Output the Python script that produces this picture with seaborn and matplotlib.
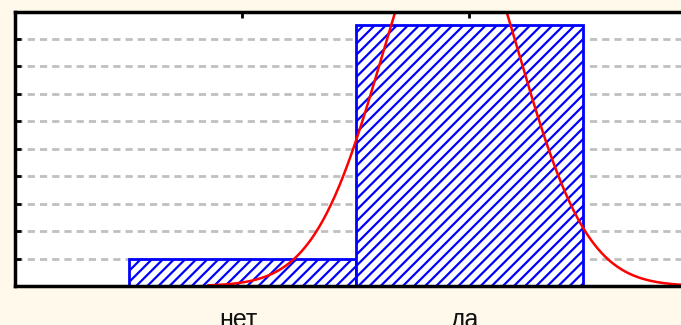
import numpy as np
import pandas as pd
import matplotlib
matplotlib.use("Agg")
import matplotlib.pyplot as plt
from matplotlib.transforms import ScaledTranslation
import seaborn as sns

# ---- data ----
categories = ["нет", "да"]
counts = [10, 95]
fit_mean = 0.92      # fitted normal curve (position units: нет=0, да=1)
fit_sd = 0.30
curve_start = -0.15
curve_end = 2.1
y_gridlines = [10, 20, 30, 40, 50, 60, 70, 80, 90]

sns.set_theme(style="white")
plt.rcParams["font.family"] = ["Liberation Sans", "DejaVu Sans"]
plt.rcParams["hatch.color"] = "#0000FF"
plt.rcParams["hatch.linewidth"] = 1.6

fig = plt.figure(figsize=(6.81, 3.25), dpi=100, facecolor="#FFF9EC")
ax = fig.add_axes([15 / 681, 39 / 325, 1.0, 274.5 / 325])
ax.set_facecolor("white")

df = pd.DataFrame({"pos": np.arange(len(categories)), "count": counts})
sns.barplot(data=df, x="pos", y="count", native_scale=True, width=1.0,
            color="white", saturation=1, edgecolor="#0000FF", linewidth=2.0,
            hatch="///", errorbar=None, ax=ax, zorder=2)

N = sum(counts)
xs = np.linspace(curve_start, curve_end, 500)
ys = N * np.exp(-0.5 * ((xs - fit_mean) / fit_sd) ** 2) / (fit_sd * np.sqrt(2 * np.pi))
sns.lineplot(x=xs, y=ys, color="#FF0000", linewidth=1.8, ax=ax, zorder=3)

ax.set_xlim(-1.0, 2.0)
ax.set_ylim(0, 100)
ax.set_xticks(range(len(categories)))
ax.set_xticklabels(categories, fontsize=18, color="#111111")
ax.set_yticks(y_gridlines)
ax.set_yticklabels([])
ax.set_xlabel("")
ax.set_ylabel("")
ax.grid(axis="y", color="#C0C0C0", linestyle=(0, (2.6, 1.8)), linewidth=2.0)
ax.grid(axis="x", visible=False)
ax.set_axisbelow(True)

for s in ["left", "top", "bottom"]:
    ax.spines[s].set_visible(True)
    ax.spines[s].set_color("black")
    ax.spines[s].set_linewidth(2.5)
    ax.spines[s].set_zorder(5)
ax.spines["right"].set_visible(False)

ax.tick_params(axis="x", direction="in", top=True, bottom=True, length=4.3,
               width=2, pad=16, color="black")
ax.tick_params(axis="y", direction="in", left=True, right=False, length=4.3,
               width=2, color="black")

shift = ScaledTranslation(-4 / 100, 0, fig.dpi_scale_trans)
for lab in ax.get_xticklabels():
    lab.set_transform(lab.get_transform() + shift)

fig.savefig("out.png", dpi=100, facecolor=fig.get_facecolor())
